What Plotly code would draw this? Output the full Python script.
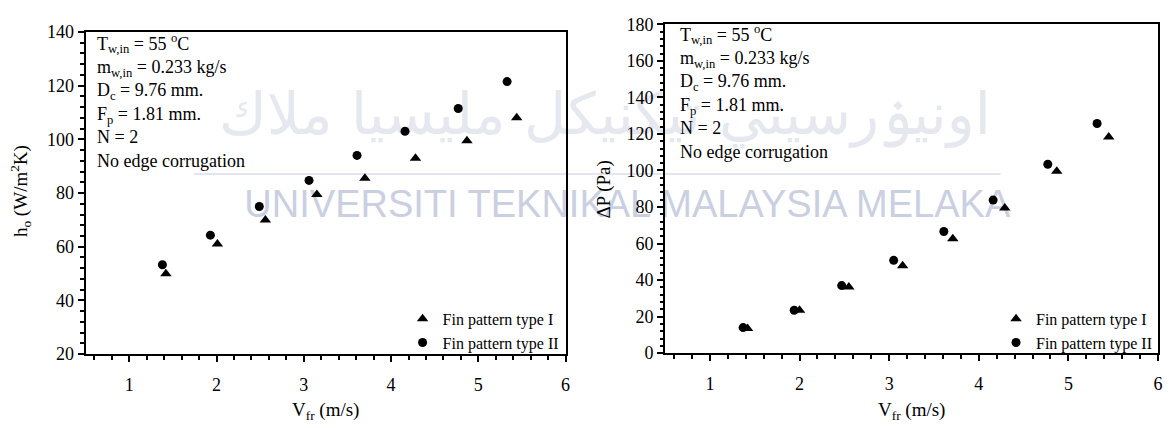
import plotly.graph_objects as go

# ---------------- data ----------------
# Left chart: heat transfer coefficient h_o vs frontal velocity
vfr_I_h = [1.42, 2.01, 2.56, 3.15, 3.70, 4.28, 4.87, 5.44]
h_I = [49.9, 61.0, 70.0, 79.5, 85.5, 93.0, 99.5, 108.0]
vfr_II_h = [1.38, 1.93, 2.49, 3.06, 3.61, 4.16, 4.77, 5.33]
h_II = [53.3, 64.3, 75.0, 84.7, 94.0, 103.0, 111.5, 121.5]

# Right chart: pressure drop vs frontal velocity
vfr_I_p = [1.42, 2.00, 2.55, 3.15, 3.71, 4.29, 4.87, 5.45]
dp_I = [13.5, 23.5, 36.2, 47.8, 62.6, 79.4, 99.6, 118.3]
vfr_II_p = [1.37, 1.94, 2.47, 3.05, 3.61, 4.16, 4.77, 5.32]
dp_II = [14.0, 23.5, 37.0, 50.8, 66.6, 83.8, 103.4, 125.7]

series_names = ["Fin pattern type I", "Fin pattern type II"]
info_lines = [
    "T<sub>w,in</sub> = 55 <sup>o</sup>C",
    "m<sub>w,in</sub> = 0.233 kg/s",
    "D<sub>c</sub> = 9.76 mm.",
    "F<sub>p</sub> = 1.81 mm.",
    "N = 2",
    "No edge corrugation",
]
x_title = "V<sub>fr</sub> (m/s)"
y_title_left = "h<sub>o</sub> (W/m<sup>2</sup>K)"
y_title_right = "ΔP (Pa)"
watermark_latin = "UNIVERSITI TEKNIKAL MALAYSIA MELAKA"
watermark_jawi = "اونيۏرسيتي تيكنيكل مليسيا ملاك"

# ---------------- layout helpers ----------------
W, H = 1169, 428
SERIF = "Liberation Serif, Times New Roman, serif"


def px_x(p):
    return p / W


def px_y(p):
    return 1 - p / H


fig = go.Figure()

tri = dict(symbol="triangle-up", size=10, color="black")
circ = dict(symbol="circle", size=9, color="black")

fig.add_trace(go.Scatter(x=vfr_I_h, y=h_I, mode="markers", marker=tri,
                         name=series_names[0], xaxis="x", yaxis="y", legend="legend"))
fig.add_trace(go.Scatter(x=vfr_II_h, y=h_II, mode="markers", marker=circ,
                         name=series_names[1], xaxis="x", yaxis="y", legend="legend"))
fig.add_trace(go.Scatter(x=vfr_I_p, y=dp_I, mode="markers", marker=tri,
                         name=series_names[0], xaxis="x2", yaxis="y2", legend="legend2"))
fig.add_trace(go.Scatter(x=vfr_II_p, y=dp_II, mode="markers", marker=circ,
                         name=series_names[1], xaxis="x2", yaxis="y2", legend="legend2"))

tickfont = dict(family=SERIF, size=18, color="black")


def xaxis(domain, anchor):
    return dict(domain=domain, anchor=anchor, range=[0.5, 6], tickvals=[1, 2, 3, 4, 5, 6],
                ticks="outside", ticklen=6, tickwidth=1.5, tickcolor="black",
                ticklabelstandoff=7,
                minor=dict(dtick=0.2, tick0=0, ticks="outside", ticklen=3.5, tickwidth=1.5,
                           tickcolor="black", showgrid=False),
                showline=True, linecolor="black", linewidth=2, mirror=True,
                showgrid=False, zeroline=False, tickfont=tickfont)


def yaxis(domain, anchor, rng):
    return dict(domain=domain, anchor=anchor, range=rng, dtick=20, tick0=0,
                ticks="outside", ticklen=6, tickwidth=1.5, tickcolor="black",
                minor=dict(dtick=4, tick0=0, ticks="outside", ticklen=3.5, tickwidth=1.5,
                           tickcolor="black", showgrid=False),
                showline=True, linecolor="black", linewidth=2, mirror=True,
                showgrid=False, zeroline=False, tickfont=tickfont)


legend_common = dict(font=dict(family=SERIF, size=16, color="black"),
                     bgcolor="rgba(0,0,0,0)", xanchor="right", yanchor="bottom",
                     tracegroupgap=0, itemwidth=30)

annotations = []
for x0, y0 in [(95, 20), (681, 11)]:
    annotations.append(dict(text="<br>".join(info_lines), x=px_x(x0), y=px_y(y0),
                            xref="paper", yref="paper", xanchor="left", yanchor="top",
                            align="left", showarrow=False,
                            font=dict(family=SERIF, size=18, color="black")))
for xc in [327, 915]:
    annotations.append(dict(text=x_title, x=px_x(xc), y=px_y(421), xref="paper", yref="paper",
                            xanchor="center", yanchor="middle", showarrow=False,
                            font=dict(family=SERIF, size=19, color="black")))
annotations.append(dict(text=y_title_left, x=px_x(20), y=px_y(190), xref="paper", yref="paper",
                        xanchor="center", yanchor="middle", textangle=-90, showarrow=False,
                        font=dict(family=SERIF, size=19, color="black")))
annotations.append(dict(text=y_title_right, x=px_x(607), y=px_y(188), xref="paper", yref="paper",
                        xanchor="center", yanchor="middle", textangle=-90, showarrow=False,
                        font=dict(family=SERIF, size=19, color="black")))

wm_color = "#cacfe2"
shapes = [
    dict(type="rect", xref="paper", yref="paper", x0=px_x(240), x1=px_x(1020),
         y0=px_y(217), y1=px_y(181), line=dict(width=0), layer="below",
         label=dict(text=watermark_latin, textposition="middle center",
                    font=dict(family="Liberation Sans, Arial, sans-serif", size=38, color=wm_color))),
    dict(type="rect", xref="paper", yref="paper", x0=px_x(190), x1=px_x(1025),
         y0=px_y(150), y1=px_y(60), line=dict(width=0), layer="below",
         label=dict(text=watermark_jawi, textposition="middle center",
                    font=dict(family="DejaVu Sans, sans-serif", size=58, color="#e6e8f0"))),
    dict(type="line", xref="paper", yref="paper", x0=px_x(195), x1=px_x(1005),
         y0=px_y(172), y1=px_y(172), line=dict(width=2, color="#e3e6ef"), layer="below"),
]

fig.update_layout(
    width=W, height=H, margin=dict(l=0, r=0, t=0, b=0),
    paper_bgcolor="white", plot_bgcolor="rgba(0,0,0,0)",
    xaxis=xaxis([px_x(86), px_x(568)], "y"),
    yaxis=yaxis([px_y(361), px_y(23)], "x", [20, 140]),
    xaxis2=xaxis([px_x(668), px_x(1163)], "y2"),
    yaxis2=yaxis([px_y(360), px_y(15)], "x2", [0, 180]),
    legend=dict(x=px_x(566), y=px_y(367), **legend_common),
    legend2=dict(x=px_x(1162), y=px_y(367), **legend_common),
    annotations=annotations,
    shapes=shapes,
    showlegend=True,
)

fig.write_html("out.html")
